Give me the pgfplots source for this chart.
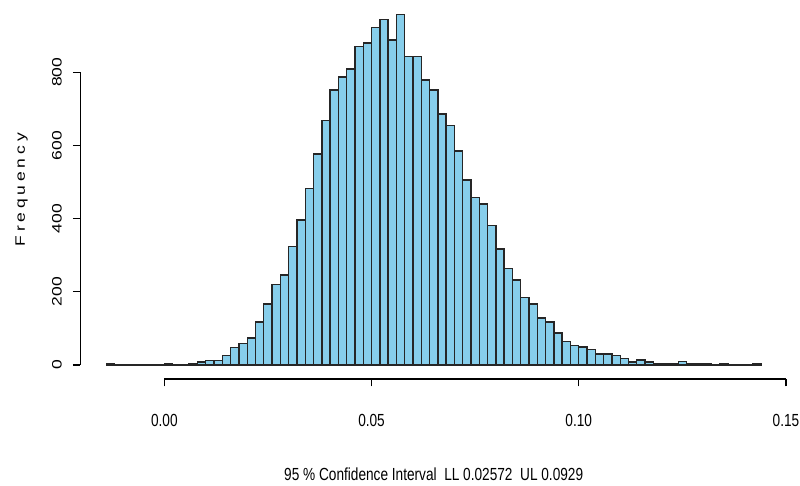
\documentclass[border=0pt]{standalone}
\usepackage{pgfplots}
\pgfplotsset{compat=1.18}
\usepackage{fontspec}
\setmainfont{Liberation Sans}
\definecolor{histblue}{HTML}{87CEEB}
% the reference is squeezed sideways: flat text narrower, upright text thinner
\newcommand\sx[1]{\scalebox{0.78}[1]{#1}}
\newcommand\sy[1]{\scalebox{1}[0.78]{#1}}

\begin{document}
\begin{tikzpicture}
\useasboundingbox (0pt,0pt) rectangle (800pt,486pt);
\begin{axis}[
  at={(80.1pt,107pt)}, anchor=south west,
  scale only axis, width=707.2pt, height=378.5pt,
  xmin=-0.02032, xmax=0.15032, ymin=-38.3, ymax=996.3,
  axis x line*=bottom, axis y line*=left,
  axis line style={draw=none},
  tick align=outside, major tick length=7.3pt,
  tick style={black, line width=1.1pt},
  font=\fontsize{17.5}{20}\selectfont,
  xtick={0,0.05,0.1,0.15},
  xticklabels={\sx{0.00},\sx{0.05},\sx{0.10},\sx{0.15}},
  xticklabel style={anchor=center, yshift=-34pt},
  ytick={0,200,400,600,800},
  yticklabels={\sy{0},\sy{200},\sy{400},\sy{600},\sy{800}},
  yticklabel style={rotate=90, anchor=center, yshift=16pt},
  xlabel={\sx{95 \% Confidence Interval~~LL 0.02572~~UL 0.0929}},
  xlabel style={at={(axis description cs:0.5,0)}, anchor=center, yshift=-95pt},
  ylabel={\sy{F\hspace{3.8pt}r\hspace{3.8pt}e\hspace{3.8pt}q\hspace{3.8pt}u\hspace{3.8pt}e\hspace{3.8pt}n\hspace{3.8pt}c\hspace{3.8pt}y}},
  ylabel style={at={(axis description cs:0,0.5)}, anchor=center, yshift=58.5pt},
  clip=false,
]
\addplot[ybar interval, fill=histblue, draw=black!85, line width=1.4pt] coordinates {
(-0.014,3) (-0.012,0) (-0.010,0) (-0.008,0) (-0.006,0) (-0.004,0) (-0.002,0)
(0.000,3) (0.002,0) (0.004,2) (0.006,3) (0.008,8) (0.010,13) (0.012,13)
(0.014,26) (0.016,48) (0.018,58) (0.020,74) (0.022,118) (0.024,167)
(0.026,220) (0.028,246) (0.030,324) (0.032,396) (0.034,483) (0.036,577)
(0.038,669) (0.040,752) (0.042,787) (0.044,809) (0.046,870) (0.048,880)
(0.050,923) (0.052,945) (0.054,888) (0.056,958) (0.058,843) (0.060,843)
(0.062,779) (0.064,752) (0.066,686) (0.068,655) (0.070,585) (0.072,506)
(0.074,457) (0.076,440) (0.078,382) (0.080,317) (0.082,263) (0.084,232)
(0.086,184) (0.088,167) (0.090,128) (0.092,118) (0.094,87) (0.096,65)
(0.098,53) (0.100,49) (0.102,43) (0.104,30) (0.106,30) (0.108,26)
(0.110,17) (0.112,8) (0.114,14) (0.116,8) (0.118,3) (0.120,3)
(0.122,3) (0.124,9) (0.126,3) (0.128,3) (0.130,4) (0.132,0)
(0.134,3) (0.136,0) (0.138,0) (0.140,0) (0.142,3) (0.144,3)
};
\draw[black, line width=1.1pt] (axis cs:0,-38.3) -- (axis cs:0.15,-38.3);
\draw[black, line width=1.1pt] (axis cs:-0.02032,0) -- (axis cs:-0.02032,800);
\end{axis}
\end{tikzpicture}
\end{document}
